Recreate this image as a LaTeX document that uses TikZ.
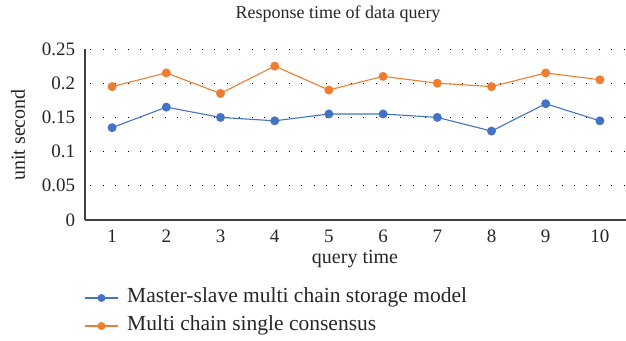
\documentclass[tikz,border=0pt]{standalone}
\usepackage{fontspec}
\setmainfont{Liberation Serif}
\usetikzlibrary{positioning,calc}

\definecolor{seriesblue}{HTML}{4472C4}
\definecolor{seriesorange}{HTML}{ED7D31}
\definecolor{axisgray}{HTML}{404040}
\definecolor{textgray}{HTML}{262626}

\begin{document}
\begin{tikzpicture}[
  x=1pt, y=1pt,
  lbl/.style={text=textgray, font=\fontsize{19}{21}\selectfont, inner sep=1pt},
  big/.style={lbl, font=\fontsize{21.5}{23}\selectfont},
  grid/.style={black, line width=0.9pt, dash pattern=on 0.9pt off 11.5pt},
  axisline/.style={axisgray, line width=1.1pt},
  serie/.style={line width=1.1pt},
  dot/.style={circle, fill, inner sep=0pt, minimum size=9pt}
]
\useasboundingbox (0,0) rectangle (626,340);

% Title
\node[lbl, font=\fontsize{18}{20}\selectfont] (title) at (338,326) {Response time of data query};

% Plot area
\begin{scope}[shift={(85,120)}, x=54.2pt, y=684pt]
  % Grid and y ticks
  \foreach \v/\t in {0/0, 0.05/0.05, 0.1/0.1, 0.15/0.15, 0.2/0.2, 0.25/0.25} {
    \ifdim\v pt>0pt \draw[grid] (0.1,\v) -- (10,\v); \fi
    \node[lbl, anchor=east] (ytick\t) at (-0.16,\v) {\t};
  }
  \draw[axisline] (0,0) -- (0,0.25);
  \draw[axisline] (0,0) -- (10,0);

  % x ticks
  \foreach \i in {1,...,10}
    \node[lbl] (xtick\i) at (\i-0.5,-0.0235) {\i};

  % Series
  \draw[serie, seriesblue] (0.5,0.135) -- (1.5,0.165) -- (2.5,0.15) -- (3.5,0.145)
    -- (4.5,0.155) -- (5.5,0.155) -- (6.5,0.15) -- (7.5,0.13) -- (8.5,0.17) -- (9.5,0.145);
  \foreach \i/\v in {1/0.135, 2/0.165, 3/0.15, 4/0.145, 5/0.155, 6/0.155, 7/0.15, 8/0.13, 9/0.17, 10/0.145}
    \node[dot, seriesblue] (m\i) at (\i-0.5,\v) {};

  \draw[serie, seriesorange] (0.5,0.195) -- (1.5,0.215) -- (2.5,0.185) -- (3.5,0.225)
    -- (4.5,0.19) -- (5.5,0.21) -- (6.5,0.2) -- (7.5,0.195) -- (8.5,0.215) -- (9.5,0.205);
  \foreach \i/\v in {1/0.195, 2/0.215, 3/0.185, 4/0.225, 5/0.19, 6/0.21, 7/0.2, 8/0.195, 9/0.215, 10/0.205}
    \node[dot, seriesorange] (s\i) at (\i-0.5,\v) {};
\end{scope}

% Axis titles
\node[lbl, font=\fontsize{20}{22}\selectfont] (xtitle) at (355,81) {query time};
\node[lbl, font=\fontsize{20}{22}\selectfont, rotate=90] (ytitle) at (18,205) {unit second};

% Legend
\coordinate (la) at (85,42);
\coordinate (lb) at (118,42);
\draw[serie, seriesblue] (la) -- (lb);
\node[dot, seriesblue, minimum size=8pt] (lm) at ($(la)!0.5!(lb)$) {};
\node[big, anchor=west] (lt) at (126,43) {Master-slave multi chain storage model};

\coordinate (oa) at (85,14);
\coordinate (ob) at (118,14);
\draw[serie, seriesorange] (oa) -- (ob);
\node[dot, seriesorange, minimum size=8pt] (om) at ($(oa)!0.5!(ob)$) {};
\node[big, anchor=west] (ot) at (126,15) {Multi chain single consensus};

\end{tikzpicture}
\end{document}
